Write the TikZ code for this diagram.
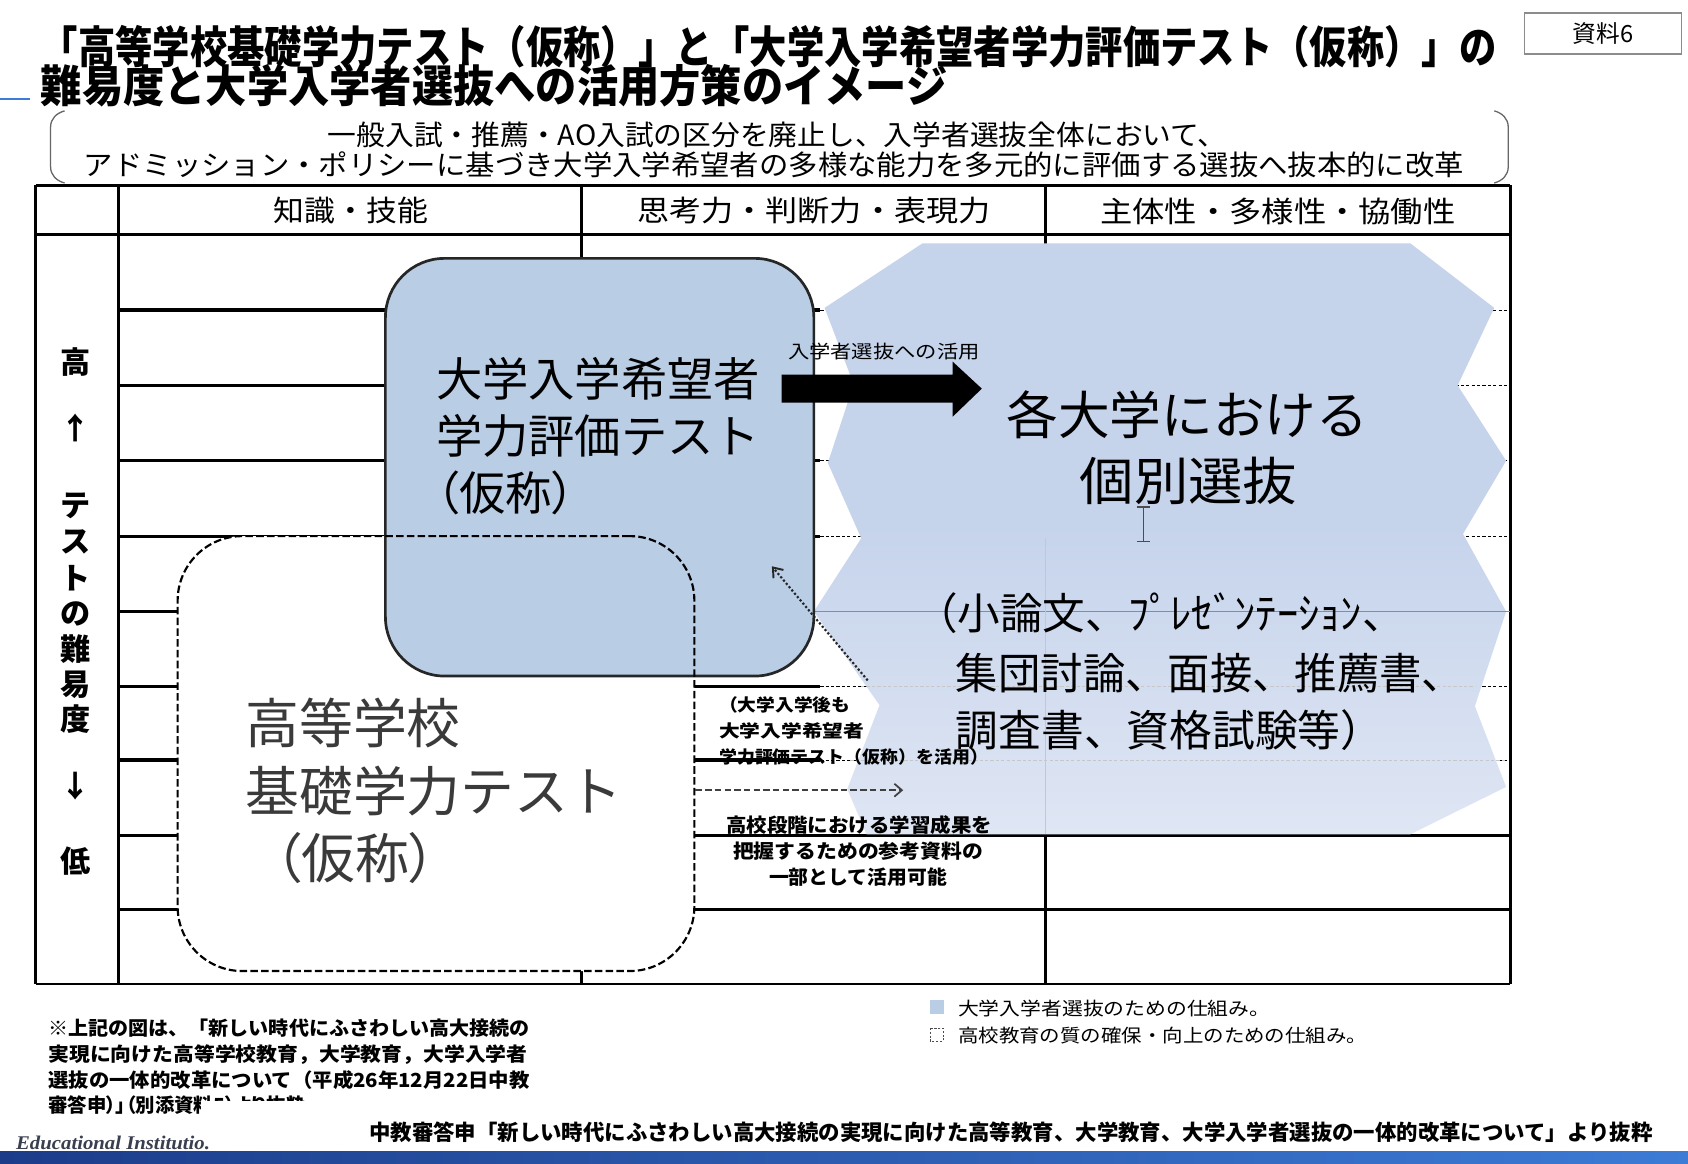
\documentclass[tikz,border=0pt]{standalone}
\usepackage{graphicx}
\usepackage{fontspec}
\setmainfont{Noto Sans CJK JP}
\newfontfamily\jpp[RawFeature=+palt]{Noto Sans CJK JP}
\newfontfamily\edufont{Liberation Serif}
\usetikzlibrary{arrows.meta}
\definecolor{boxblue}{HTML}{B9CDE5}
\definecolor{pb}{HTML}{C5D3EB}
\definecolor{pbl}{HTML}{DFE6F4}
\definecolor{navyc}{HTML}{1C3C8A}
\definecolor{brightc}{HTML}{3C7BD6}
\definecolor{txtgray}{HTML}{3A3A3A}
\definecolor{edugray}{HTML}{3A3F50}
\pgfdeclareverticalshading{polyshade}{100bp}{color(0bp)=(pbl); color(25bp)=(pbl); color(52bp)=(pb); color(100bp)=(pb)}
\newcommand\fsz[1]{\fontsize{#1pt}{#1pt}\selectfont}
\newcommand\fitw[2]{\resizebox{#1pt}{\height}{#2}}
\tikzset{
  txt/.style={inner sep=0pt, outer sep=0pt},
  tline/.style={line width=2.5pt, black},
  rowline/.style={line width=3pt, black},
  rowdash/.style={line width=1pt, black, dash pattern=on 3pt off 2pt},
  faint/.style={line width=0.8pt, black!45},
}
\begin{document}
\begin{tikzpicture}[x=1pt, y=-1pt]
\useasboundingbox (0,0) rectangle (1568,1081.2);
\fill[white] (0,0) rectangle (1568,1081.2);

% title
\node[txt, anchor=west] (t1) at (38,43) {\fsz{41}\bfseries\fitw{1352}{「高等学校基礎学力テスト（仮称）」と「大学入学希望者学力評価テスト（仮称）」の}};
\node[txt, anchor=west] (t2) at (38,80) {\fsz{41}\bfseries\fitw{842}{難易度と大学入学者選抜への活用方策のイメージ}};
\draw[line width=2pt, brightc] (0,92) -- (28,92);
\node[draw=black!45, line width=1.5pt, fill=white, minimum width=146pt, minimum height=38pt, inner sep=0pt] (shiryo) at (1489,31) {\fsz{22}資料6};

% bracket box
\draw[line width=1.2pt, black!60] (60,103) to[out=195,in=90] (47,118) -- (47,155) to[out=-90,in=165] (60,170);
\draw[line width=1.2pt, black!60] (1388,103) to[out=-15,in=90] (1401,118) -- (1401,155) to[out=-90,in=15] (1388,170);
\node[txt] (b1) at (722,125) {\fsz{26}\fitw{835}{一般入試・推薦・AO入試の区分を廃止し、入学者選抜全体において、}};
\node[txt] (b2) at (719,153) {\fsz{26}\fitw{1282}{アドミッション・ポリシーに基づき大学入学希望者の多様な能力を多元的に評価する選抜へ抜本的に改革}};

% table grid
\foreach \yy in {288,358,428,498,568,638,706} {
  \draw[rowline] (110,\yy) -- (762,\yy);
  \draw[rowdash] (762,\yy) -- (1403,\yy);
}
\foreach \yy in {776,845} {
  \draw[rowline] (110,\yy) -- (1403,\yy);
}
\draw[tline] (33,172) -- (1403,172);
\draw[tline] (33,218) -- (1403,218);
\draw[tline] (33,914) -- (1403,914);
\draw[tline] (33,172) -- (33,914);
\draw[tline] (110,172) -- (110,914);
\draw[tline] (540,172) -- (540,914);
\draw[tline] (971,172) -- (971,914);
\draw[tline] (1403,172) -- (1403,914);

% header
\node[txt] (h1) at (326,196) {\fsz{27}\fitw{143}{知識・技能}};
\node[txt] (h2) at (756,196) {\fsz{27}\fitw{328}{思考力・判断力・表現力}};
\node[txt] (h3) at (1187,196) {\fsz{27}\fitw{330}{主体性・多様性・協働性}};

% left column
\node[txt] (l1) at (70,336) {\fsz{28}\bfseries 高};
\node[txt] (l2) at (70,398) {\fsz{28}\bfseries ↑};
\node[txt] (l3) at (70,470) {\fsz{28}\bfseries テ};
\node[txt] (l4) at (70,503) {\fsz{28}\bfseries ス};
\node[txt] (l5) at (70,537) {\fsz{28}\bfseries ト};
\node[txt] (l6) at (70,570) {\fsz{28}\bfseries の};
\node[txt] (l7) at (70,603) {\fsz{28}\bfseries 難};
\node[txt] (l8) at (70,636) {\fsz{28}\bfseries 易};
\node[txt] (l9) at (70,668) {\fsz{28}\bfseries 度};
\node[txt] (l10) at (70,730) {\fsz{28}\bfseries ↓};
\node[txt] (l11) at (70,800) {\fsz{28}\bfseries 低};

% polygon (individual selection)
\shade[shading=polyshade] (857,226) -- (1310,226) -- (1388,286) -- (1354,358) -- (1399,428) -- (1359,496) -- (1399,568) -- (1370,656) -- (1399,731) -- (1310,775) -- (805,775) -- (787,733) -- (817,655) -- (756,568) -- (800,500) -- (769,430) -- (793,357) -- (766,286) -- cycle;
\draw[faint] (757,568) -- (1403,568);
\draw[faint, black!22] (971,500) -- (971,775);
\draw[faint, black!22, dash pattern=on 3pt off 2pt] (800,638) -- (1370,638);
\draw[faint, black!22, dash pattern=on 3pt off 2pt] (790,706) -- (1399,706);

% high-school basic test box (dashed)
\node[fill=white, rounded corners=60pt, minimum width=480pt, minimum height=404pt, inner sep=0pt] (hsfill) at (405,700) {};
% university applicant test box
\node[draw=black!85, line width=2.5pt, fill=boxblue, rounded corners=55pt, minimum width=398pt, minimum height=388pt, inner sep=0pt] (uni) at (557,434) {};
\node[draw=black, line width=2pt, dash pattern=on 7pt off 3pt, rounded corners=60pt, minimum width=480pt, minimum height=404pt, inner sep=0pt] (hs) at (405,700) {};

% texts in boxes
\node[txt, anchor=west] (u1) at (405,352) {\fsz{43}大学入学希望者};
\node[txt, anchor=west] (u2) at (405,405) {\fsz{43}学力評価テスト};
\node[txt, anchor=west] (u3) at (405,458) {\fsz{43}\jpp（仮称）};

\node[txt, anchor=west, text=txtgray] (s1) at (228,672) {\fsz{50}高等学校};
\node[txt, anchor=west, text=txtgray] (s2) at (228,735) {\fsz{50}基礎学力テスト};
\node[txt, anchor=west, text=txtgray] (s3) at (255,797) {\fsz{50}\jpp（仮称）};

\node[txt] (p1) at (1103,385) {\fsz{48}各大学における};
\node[txt] (p2) at (1104,447) {\fsz{48}\fitw{202}{個別選抜}};
\node[txt, anchor=west] (p3) at (850,570) {\fsz{40}\fitw{455}{（小論文、ﾌﾟﾚｾﾞﾝﾃｰｼｮﾝ、}};
\node[txt, anchor=west] (p4) at (888,625) {\fsz{40}\fitw{472}{集団討論、面接、推薦書、}};
\node[txt, anchor=west] (p5) at (888,678) {\fsz{40}\fitw{397}{調査書、資格試験等）}};

% I-beam cursor
\draw[line width=1.2pt, black!70] (1062,471) -- (1062,503) (1056,471) -- (1068,471) (1056,503) -- (1068,503);

% block arrow
\fill[black] (726,348) -- (885,348) -- (885,336) -- (912,361) -- (885,387) -- (885,374) -- (726,374) -- cycle;
\node[txt] (alab) at (821,327) {\fsz{17}\fitw{178}{入学者選抜への活用}};

% dotted arrow back to university test
\coordinate (dA) at (806,632);
\coordinate (dB) at (717,526);
\draw[line width=2pt, black!85, dash pattern=on 2pt off 2pt, -{Straight Barb[length=8pt,width=12pt,line width=1.8pt]}] (dA) -- (dB);

% small texts column 3
\node[txt, anchor=west] (c1) at (668,655) {\fsz{16}\bfseries\fitw{122}{（大学入学後も}};
\node[txt, anchor=west] (c2) at (668,679) {\fsz{16}\bfseries\fitw{135}{大学入学希望者}};
\node[txt, anchor=west] (c3) at (668,703) {\fsz{16}\bfseries\fitw{250}{学力評価テスト（仮称）を活用）}};
\coordinate (eA) at (646,734);
\coordinate (eB) at (839,734);
\draw[line width=1.6pt, black!75, dash pattern=on 6pt off 3pt, -{Straight Barb[length=7pt,width=12pt,line width=1.6pt]}] (eA) -- (eB);
\node[txt] (c4) at (798,766) {\fsz{18}\bfseries\fitw{247}{高校段階における学習成果を}};
\node[txt] (c5) at (797,791) {\fsz{18}\bfseries\fitw{232}{把握するための参考資料の}};
\node[txt] (c6) at (797,815) {\fsz{18}\bfseries\fitw{165}{一部として活用可能}};

% legend
\fill[boxblue] (864,929) rectangle (877,942);
\node[txt, anchor=west] (g1) at (890,937) {\fsz{17}\fitw{290}{大学入学者選抜のための仕組み。}};
\draw[line width=0.8pt, black!70, dash pattern=on 2pt off 1.5pt] (864,955) rectangle (876,967);
\node[txt, anchor=west] (g2) at (890,962) {\fsz{17}\fitw{380}{高校教育の質の確保・向上のための仕組み。}};

% note
\node[txt, anchor=west] (n1) at (45,955) {\fsz{18}\bfseries\fitw{447}{※上記の図は、「新しい時代にふさわしい高大接続の}};
\node[txt, anchor=west] (n2) at (45,980) {\fsz{18}\bfseries\fitw{445}{実現に向けた高等学校教育，大学教育，大学入学者}};
\node[txt, anchor=west] (n3) at (45,1003) {\fsz{18}\bfseries\fitw{447}{選抜の一体的改革について（平成26年12月22日中教}};
\begin{scope}
\clip (40,1012) rectangle (186,1042) (186,1012) rectangle (340,1022);
\node[txt, anchor=west] (n4) at (45,1027) {\fsz{18}\bfseries\jpp 審答申）」（別添資料5）より抜粋};
\end{scope}

% footer
\node[txt, anchor=west] (f1) at (343,1052) {\fsz{20}\bfseries\fitw{1192}{中教審答申「新しい時代にふさわしい高大接続の実現に向けた高等教育、大学教育、大学入学者選抜の一体的改革について」より抜粋}};
\node[txt, anchor=west, text=edugray] (f2) at (15,1062) {\fsz{18}\edufont\bfseries\itshape\fitw{180}{Educational Institutio.}};
\shade[left color=navyc, right color=brightc] (0,1070) rectangle (1568,1081.2);
\end{tikzpicture}
\end{document}
